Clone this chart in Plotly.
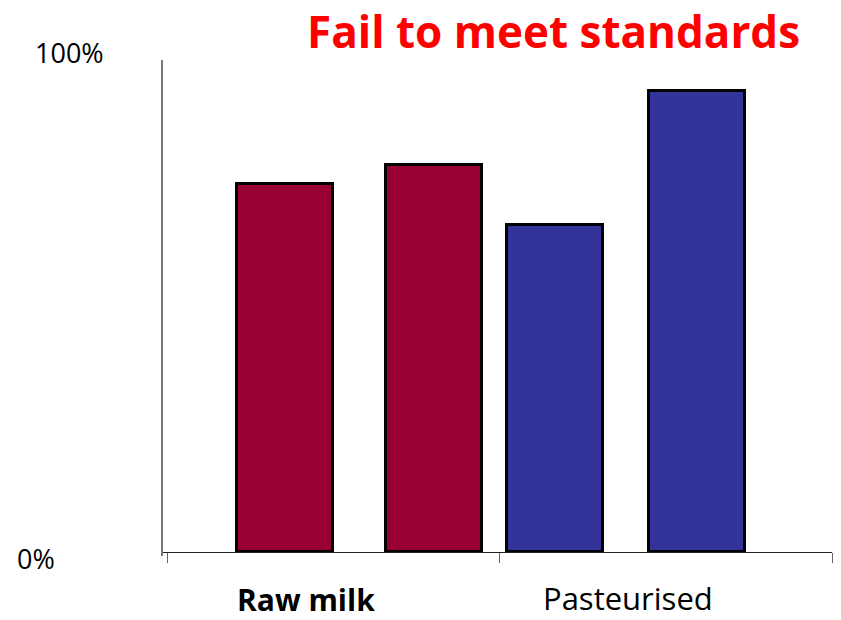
import plotly.graph_objects as go

# Share of samples failing to meet standards (%)
raw_labels = ["Raw milk A", "Raw milk B"]
raw_values = [73.4, 77.0]
past_labels = ["Pasteurised A", "Pasteurised B"]
past_values = [65.2, 91.9]
group_names = ["Raw milk", "Pasteurised"]
y_tick_labels = ["0%", "100%"]

# Layout geometry (pixels)
W, H = 841, 620
L, R, T, B = 163, 9, 60, 64
PW, PH = W - L - R, H - T - B

def px_x(px):
    return (px - L) / PW

def px_y(py):
    return (H - B - py) / PH

# Bar centres along the category axis (group 0 spans 0..1, group 1 spans 1..2)
raw_pos = [0.352, 0.800]
past_pos = [1.166, 1.592]
bar_width = 0.289

fig = go.Figure()
fig.add_trace(go.Bar(
    x=raw_pos, y=raw_values, width=bar_width, name=group_names[0],
    hovertext=raw_labels,
    marker=dict(color="#990033", line=dict(color="#000000", width=3)),
))
fig.add_trace(go.Bar(
    x=past_pos, y=past_values, width=bar_width, name=group_names[1],
    hovertext=past_labels,
    marker=dict(color="#333399", line=dict(color="#000000", width=3)),
))

annotations = [
    dict(text="<b>Fail to meet standards</b>", x=px_x(553), y=px_y(31),
         font=dict(family="Open Sans", size=44, color="#ff0000")),
    dict(text="<b>" + group_names[0] + "</b>", x=px_x(306), y=px_y(599),
         font=dict(family="Open Sans", size=30, color="#000000")),
    dict(text=group_names[1], x=px_x(628), y=px_y(598),
         font=dict(family="Open Sans", size=31, color="#000000")),
    dict(text=y_tick_labels[1], x=px_x(70), y=px_y(53),
         font=dict(family="Open Sans", size=27, color="#000000")),
    dict(text=y_tick_labels[0], x=px_x(36), y=px_y(558),
         font=dict(family="Open Sans", size=27, color="#000000")),
]
for a in annotations:
    a.update(xref="paper", yref="paper", xanchor="center", yanchor="middle",
             showarrow=False)

fig.update_layout(
    width=W, height=H,
    margin=dict(l=L, r=R, t=T, b=B, pad=0),
    paper_bgcolor="white", plot_bgcolor="white",
    showlegend=False,
    bargap=0,
    annotations=annotations,
    xaxis=dict(
        range=[-0.015, 2.0], showgrid=False, zeroline=False,
        showline=True, linecolor="#222222", linewidth=1,
        tickvals=[0, 1, 2], ticktext=["", "", ""], ticks="outside",
        ticklen=10, tickcolor="#666666", tickwidth=1,
        anchor="free", position=px_y(552),
    ),
    yaxis=dict(
        range=[-0.8, 98.0], showgrid=False, zeroline=False,
        showline=True, linecolor="#7a7a7a", linewidth=2,
        showticklabels=False, ticks="",
    ),
)

fig.write_html("out.html")
